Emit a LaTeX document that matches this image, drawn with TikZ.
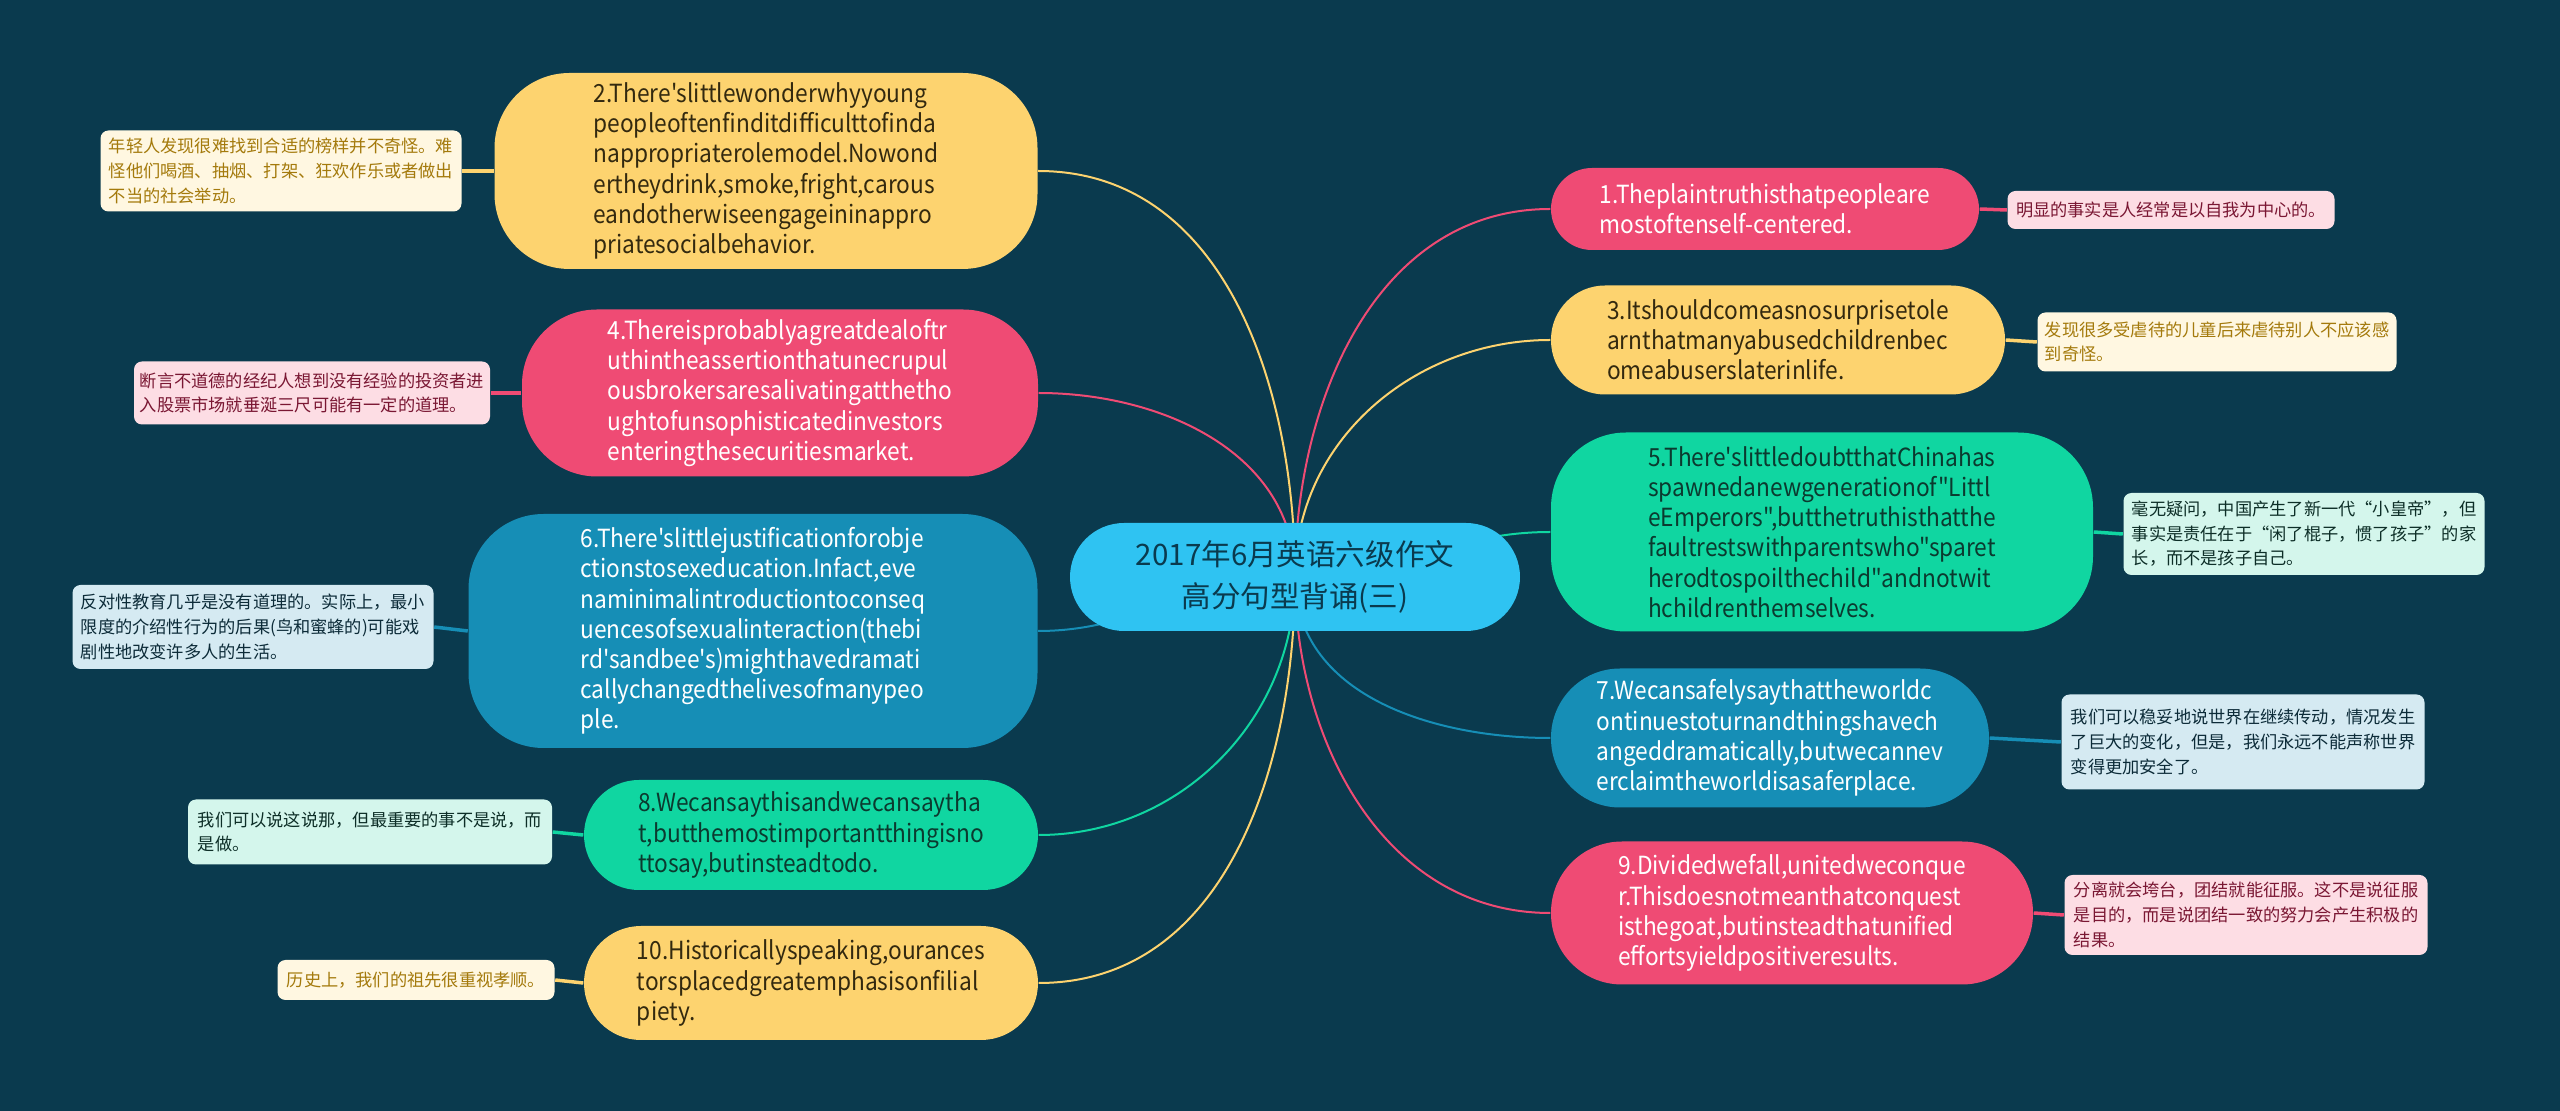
\documentclass[tikz,border=0pt]{standalone}
\usepackage{fontspec}
\newfontfamily\cjk{Noto Sans CJK SC}
\newfontfamily\cjknarrow{Noto Sans CJK SC}[FakeStretch=0.91]
\usetikzlibrary{backgrounds}
\definecolor{bgc}{HTML}{0A3A4E}
\definecolor{rootc}{HTML}{2FC3F2}
\definecolor{ylwc}{HTML}{FDD36F}
\definecolor{ylwt}{HTML}{33290F}
\definecolor{ylwl}{HTML}{FFF7E1}
\definecolor{ylwlt}{HTML}{A47A0C}
\definecolor{pnkc}{HTML}{EF4B74}
\definecolor{pnkl}{HTML}{FDDDE4}
\definecolor{pnklt}{HTML}{7A1733}
\definecolor{bluc}{HTML}{168EB6}
\definecolor{blul}{HTML}{D5EAF2}
\definecolor{blult}{HTML}{0C2B38}
\definecolor{grnc}{HTML}{10D6A1}
\definecolor{grnt}{HTML}{0B3A2F}
\definecolor{grnl}{HTML}{D4F6EC}
\definecolor{grnlt}{HTML}{0D2E27}
\tikzset{
  root/.style   = {fill=rootc, text=bgc, rounded corners=5.4mm, align=center,
    minimum width=45mm, minimum height=10.8mm, font=\cjk\fontsize{8.4}{11.8}\selectfont},
  branch/.style = {rounded corners=7.5mm, align=left, inner sep=0pt,
    font=\cjknarrow\fontsize{7.1}{8.6}\selectfont},
  leaf/.style   = {rounded corners=0.8mm, align=left, inner sep=0pt,
    font=\cjk\fontsize{4.9}{7}\selectfont},
  ybr/.style = {branch, fill=ylwc, text=ylwt},
  pbr/.style = {branch, fill=pnkc, text=white},
  bbr/.style = {branch, fill=bluc, text=white},
  gbr/.style = {branch, fill=grnc, text=grnt},
  ylf/.style = {leaf, fill=ylwl, text=ylwlt},
  plf/.style = {leaf, fill=pnkl, text=pnklt},
  blf/.style = {leaf, fill=blul, text=blult},
  glf/.style = {leaf, fill=grnl, text=grnlt},
  wire/.style = {draw=#1, line width=0.2mm},
  twig/.style = {draw=#1, line width=0.35mm}
}
\begin{document}
\begin{tikzpicture}[x=0.1mm, y=-0.1mm]
  \useasboundingbox (0,0) rectangle (2560,1111);
  % centre
  \node[root] (root) at (1295,577) {2017年6月英语六级作文\\高分句型背诵(三)};

  % left side
  \node[ybr, minimum width=54.3mm, minimum height=19.6mm] (n2) at (766,171)
    {2.There'slittlewonderwhyyoung\\peopleoftenfinditdifficulttofinda\\nappropriaterolemodel.Nowond\\ertheydrink,smoke,fright,carous\\eandotherwiseengageininappro\\priatesocialbehavior.};
  \node[pbr, minimum width=51.6mm, minimum height=16.7mm] (n4) at (780,393)
    {4.Thereisprobablyagreatdealoftr\\uthintheassertionthatunecrupul\\ousbrokersaresalivatingatthetho\\ughtofunsophisticatedinvestors\\enteringthesecuritiesmarket.};
  \node[bbr, minimum width=56.9mm, minimum height=23.4mm] (n6) at (753,631)
    {6.There'slittlejustificationforobje\\ctionstosexeducation.Infact,eve\\naminimalintroductiontoconseq\\uencesofsexualinteraction(thebi\\rd'sandbee's)mighthavedramati\\callychangedthelivesofmanypeo\\ple.};
  \node[gbr, rounded corners=5.5mm, minimum width=45.4mm, minimum height=11mm] (n8) at (811,835)
    {8.Wecansaythisandwecansaytha\\t,butthemostimportantthingisno\\ttosay,butinsteadtodo.};
  \node[ybr, rounded corners=5.7mm, minimum width=45.4mm, minimum height=11.4mm] (n10) at (811,983)
    {10.Historicallyspeaking,ourances\\torsplacedgreatemphasisonfilial\\piety.};

  % right side
  \node[pbr, rounded corners=4.1mm, minimum width=42.8mm, minimum height=8.2mm] (n1) at (1765,209)
    {1.Theplaintruthisthatpeopleare\\mostoftenself-centered.};
  \node[ybr, rounded corners=5.4mm, minimum width=45.4mm, minimum height=10.9mm] (n3) at (1778,340)
    {3.Itshouldcomeasnosurprisetole\\arnthatmanyabusedchildrenbec\\omeabuserslaterinlife.};
  \node[gbr, minimum width=54.2mm, minimum height=19.9mm] (n5) at (1822,532)
    {5.There'slittledoubtthatChinahas\\spawnedanewgenerationof"Littl\\eEmperors",butthetruthisthatthe\\faultrestswithparentswho"sparet\\herodtospoilthechild"andnotwit\\hchildrenthemselves.};
  \node[bbr, rounded corners=6.9mm, minimum width=43.8mm, minimum height=13.9mm] (n7) at (1770,738)
    {7.Wecansafelysaythattheworldc\\ontinuestoturnandthingshavech\\angeddramatically,butwecannev\\erclaimtheworldisasaferplace.};
  \node[pbr, rounded corners=7.1mm, minimum width=48.2mm, minimum height=14.3mm] (n9) at (1792,913)
    {9.Dividedwefall,unitedweconque\\r.Thisdoesnotmeanthatconquest\\isthegoat,butinsteadthatunified\\effortsyieldpositiveresults.};

  % leaves
  \node[ylf, minimum width=36.1mm, minimum height=8.1mm] (l2) at (281,171)
    {年轻人发现很难找到合适的榜样并不奇怪。难\\怪他们喝酒、抽烟、打架、狂欢作乐或者做出\\不当的社会举动。};
  \node[plf, minimum width=35.6mm, minimum height=6.3mm] (l4) at (312,393)
    {断言不道德的经纪人想到没有经验的投资者进\\入股票市场就垂涎三尺可能有一定的道理。};
  \node[blf, minimum width=36.1mm, minimum height=8.4mm] (l6) at (253,627)
    {反对性教育几乎是没有道理的。实际上，最小\\限度的介绍性行为的后果(鸟和蜜蜂的)可能戏\\剧性地改变许多人的生活。};
  \node[glf, minimum width=36.4mm, minimum height=6.5mm] (l8) at (370,832)
    {我们可以说这说那，但最重要的事不是说，而\\是做。};
  \node[ylf, minimum width=27.7mm, minimum height=4mm] (l10) at (416,980)
    {历史上，我们的祖先很重视孝顺。};
  \node[plf, minimum width=32.7mm, minimum height=3.8mm] (l1) at (2171,210)
    {明显的事实是人经常是以自我为中心的。};
  \node[ylf, minimum width=35.9mm, minimum height=5.9mm] (l3) at (2217,342)
    {发现很多受虐待的儿童后来虐待别人不应该感\\到奇怪。};
  \node[glf, minimum width=36.1mm, minimum height=8.2mm] (l5) at (2304,534)
    {毫无疑问，中国产生了新一代“小皇帝”，但\\事实是责任在于“闲了棍子，惯了孩子”的家\\长，而不是孩子自己。};
  \node[blf, minimum width=36.3mm, minimum height=9.5mm] (l7) at (2243,742)
    {我们可以稳妥地说世界在继续传动，情况发生\\了巨大的变化，但是，我们永远不能声称世界\\变得更加安全了。};
  \node[plf, minimum width=36.3mm, minimum height=8mm] (l9) at (2246,915)
    {分离就会垮台，团结就能征服。这不是说征服\\是目的，而是说团结一致的努力会产生积极的\\结果。};

  \begin{pgfonlayer}{background}
    \fill[bgc] (0,0) rectangle (2560,1111);
    % centre to branches
    \draw[wire=ylwc] (root.center) to[out=90,in=0] (n2.east);
    \draw[wire=pnkc] (root.center) to[out=90,in=0] (n4.east);
    \draw[wire=bluc] (root.center) to[out=180,in=0] (n6.east);
    \draw[wire=grnc] (root.center) to[out=-90,in=0] (n8.east);
    \draw[wire=ylwc] (root.center) to[out=-90,in=0] (n10.east);
    \draw[wire=pnkc] (root.center) to[out=90,in=180] (n1.west);
    \draw[wire=ylwc] (root.center) to[out=90,in=180] (n3.west);
    \draw[wire=grnc] (root.center) to[out=0,in=180] (n5.west);
    \draw[wire=bluc] (root.center) to[out=-90,in=180] (n7.west);
    \draw[wire=pnkc] (root.center) to[out=-90,in=180] (n9.west);
    % branches to leaves
    \draw[twig=ylwc] (n2.west) -- (l2.east);
    \draw[twig=pnkc] (n4.west) -- (l4.east);
    \draw[twig=bluc] (n6.west) -- (l6.east);
    \draw[twig=grnc] (n8.west) -- (l8.east);
    \draw[twig=ylwc] (n10.west) -- (l10.east);
    \draw[twig=pnkc] (n1.east) -- (l1.west);
    \draw[twig=ylwc] (n3.east) -- (l3.west);
    \draw[twig=grnc] (n5.east) -- (l5.west);
    \draw[twig=bluc] (n7.east) -- (l7.west);
    \draw[twig=pnkc] (n9.east) -- (l9.west);
  \end{pgfonlayer}
\end{tikzpicture}
\end{document}
